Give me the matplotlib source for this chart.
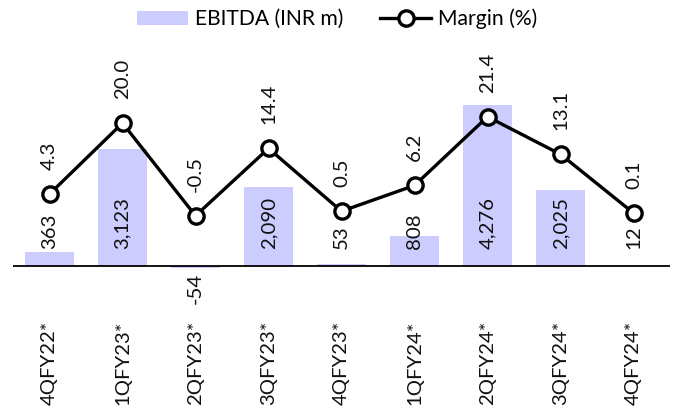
import matplotlib
matplotlib.use("Agg")
import matplotlib.pyplot as plt
from matplotlib.lines import Line2D
from matplotlib.patches import Patch

categories = ["4QFY22*", "1QFY23*", "2QFY23*", "3QFY23*", "4QFY23*",
              "1QFY24*", "2QFY24*", "3QFY24*", "4QFY24*"]
ebitda = [363, 3123, -54, 2090, 53, 808, 4276, 2025, 12]
margin = [4.3, 20.0, -0.5, 14.4, 0.5, 6.2, 21.4, 13.1, 0.1]

plt.rcParams['font.family'] = ['Lato', 'DejaVu Sans']
W, H = 675, 411
fig = plt.figure(figsize=(W / 100, H / 100), dpi=100)
renderer = fig.canvas.get_renderer()


def fit_size(text, target_px):
    t = fig.text(0, 0, text, fontsize=10)
    w = t.get_window_extent(renderer).width
    t.remove()
    return 10 * target_px / w


fs_tick = fit_size("4QFY22*", 84)
fs_lab = fit_size("3,123", 52)
fs_leg = fit_size("EBITDA (INR m)", 148)

ax_l, ax_r, ax_t, ax_b = 13, 670, 40, 300
ax = fig.add_axes([ax_l / W, 1 - ax_b / H, (ax_r - ax_l) / W, (ax_b - ax_t) / H])
ax2 = ax.twinx()

x = list(range(len(categories)))
bar_color = "#CCCCFF"
ax.bar(x, ebitda, width=0.67, color=bar_color, zorder=1)
ax.axhline(0, color="black", lw=1.3, zorder=3)
ax.set_xlim(-0.5, len(categories) - 0.5)
ax.set_ylim(-904, 6011)
ax2.set_ylim(-19.14, 38.38)

ax2.plot(x, margin, color="black", lw=2.4, marker="o", ms=11,
         mfc="white", mec="black", mew=2.4, zorder=5)

tc = "#111111"
for xi, v in zip(x, ebitda):
    s = f"{v:,}"
    if v >= 0:
        ax.annotate(s, (xi, 0), xytext=(0, 17), textcoords="offset pixels",
                    rotation=90, ha="center", va="bottom", fontsize=fs_lab, color=tc)
    else:
        ax.annotate(s, (xi, 0), xytext=(0, -7), textcoords="offset pixels",
                    rotation=90, ha="center", va="top", fontsize=fs_lab, color=tc)
for xi, v in zip(x, margin):
    ax2.annotate(f"{v:.1f}", (xi, v), xytext=(0, 24), textcoords="offset pixels",
                 rotation=90, ha="center", va="bottom", fontsize=fs_lab, color=tc)

ax.set_xticks(x)
ax.set_xticklabels(categories, rotation=90, fontsize=fs_tick, color=tc)
ax.tick_params(axis="x", length=0, pad=21 * 0.72)
ax.set_yticks([])
ax2.set_yticks([])
for a in (ax, ax2):
    for sp in a.spines.values():
        sp.set_visible(False)

px_per_fs = fs_leg * 100 / 72
handles = [Patch(facecolor=bar_color, edgecolor="none", label="EBITDA (INR m)"),
           Line2D([0], [0], color="black", lw=2.4, marker="o", ms=11,
                  mfc="white", mec="black", mew=2.4, label="Margin (%)")]
fig.legend(handles=handles, loc="center", bbox_to_anchor=(337 / W, 1 - 19 / H),
           ncol=2, frameon=False, fontsize=fs_leg, handlelength=51 / px_per_fs,
           handleheight=13 / px_per_fs, columnspacing=37 / px_per_fs,
           handletextpad=7 / px_per_fs, borderpad=0, borderaxespad=0)

fig.savefig("out.png", dpi=100)
